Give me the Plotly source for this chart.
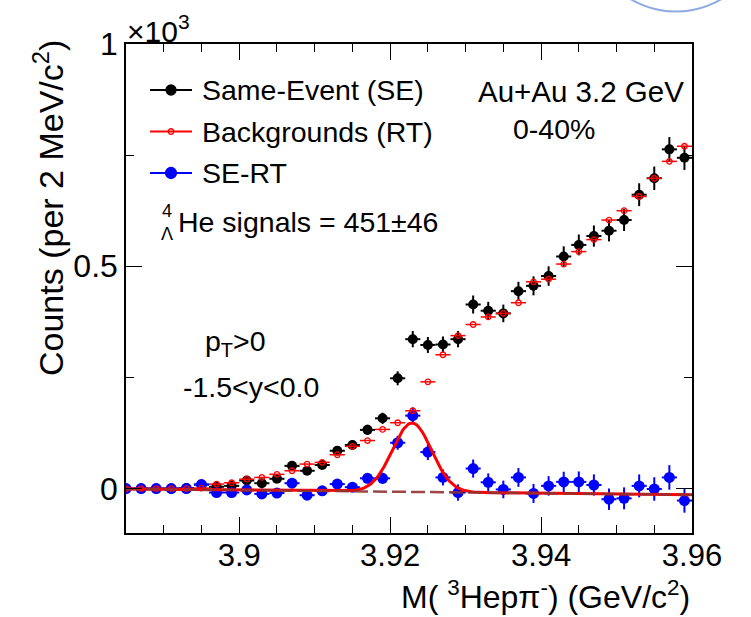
import plotly.graph_objects as go
import numpy as np

# ---------------- data ----------------
mass = [3.885, 3.887, 3.889, 3.891, 3.893, 3.895, 3.897, 3.899, 3.901, 3.903,
        3.905, 3.907, 3.909, 3.911, 3.913, 3.915, 3.917, 3.919, 3.921, 3.923,
        3.925, 3.927, 3.929, 3.931, 3.933, 3.935, 3.937, 3.939, 3.941, 3.943,
        3.945, 3.947, 3.949, 3.951, 3.953, 3.955, 3.957, 3.959]

same_event = [0, 0, 0, 0, 1, 9, 4, 6, 18, 12,
              22, 51, 40, 53, 85, 98, 132, 158, 248, 336,
              323, 324, 336, 414, 400, 394, 444, 456, 478, 522,
              548, 568, 580, 604, 661, 698, 763, 744]
same_event_err = [0, 0, 0, 0, 1, 3, 2, 2.5, 4, 3.5,
                  4.7, 7.1, 6.3, 7.3, 9.2, 9.9, 11.5, 12.6, 15.7, 18.3,
                  18, 18, 18.3, 20.3, 20, 19.8, 21.1, 21.4, 21.9, 22.8,
                  23.4, 23.8, 24.1, 24.6, 25.7, 26.4, 27.6, 27.3]

background = [0, 0, 0, 0, 0, 1, 10, 13, 21, 25,
              32, 40, 55, 59, 76, 95, 108, 133, 148, 175,
              240, 301, 344, 369, 386, 394, 418, 465, 471, 505,
              533, 560, 604, 625, 657, 698, 736, 770]

signal = [0, 0, 0, 0, 0, 9, -9, -9, -3, -12,
          -10, 12, -15, -5, 10, 3, 23, 23, 103, 164,
          82, 25, -9, 45, 14, -2, 25, -11, 6, 15,
          15, 8, -24, -22, 6, -1, 25, -27]
signal_err = [0, 0, 0, 0, 1, 3, 2, 2.5, 4, 3.5,
              4.7, 7.1, 6.3, 7.3, 9.2, 9.9, 11.5, 12.6, 15.7, 18.3,
              18, 18, 18.3, 20.3, 20, 19.8, 21.1, 21.4, 21.9, 22.8,
              23.4, 23.8, 24.1, 24.6, 25.7, 26.4, 27.6, 27.3]

half_bin = 0.001

# fit: gaussian + linear background (parameters)
fit_mean = 3.9229
fit_sigma = 0.0026
fit_amp = 155.0
bg_p0 = -1.0       # value at 3.885
bg_p1 = -173.0     # slope per GeV/c^2

x_ticks = [3.90, 3.92, 3.94, 3.96]
x_ticktext = ["3.9", "3.92", "3.94", "3.96"]
y_ticks = [0, 500, 1000]
y_ticktext = ["0", "0.5", "1"]

# ---------------- layout geometry ----------------
W, H = 751, 617
L, R, T, B = 126, 692, 44, 533
FONT = "Liberation Sans, Arial, Helvetica, sans-serif"


def px(x):
    return (x - L) / (R - L)


def py(y):
    return (B - y) / (B - T)


fig = go.Figure()

# Same-Event (black)
fig.add_trace(go.Scatter(
    x=mass, y=same_event, mode="markers",
    marker=dict(color="black", size=10, symbol="circle"),
    error_y=dict(type="data", array=same_event_err, color="black", thickness=2, width=0),
    error_x=dict(type="constant", value=half_bin, color="black", thickness=2, width=0),
    showlegend=False))

# SE-RT (blue)
fig.add_trace(go.Scatter(
    x=mass, y=signal, mode="markers",
    marker=dict(color="#0000ff", size=11, symbol="circle"),
    error_y=dict(type="data", array=signal_err, color="#0000ff", thickness=2, width=0),
    error_x=dict(type="constant", value=half_bin, color="#0000ff", thickness=2, width=0),
    showlegend=False))

# Backgrounds RT (red open)
fig.add_trace(go.Scatter(
    x=mass, y=background, mode="markers",
    marker=dict(color="#ff0000", size=5.5, symbol="circle-open", line=dict(width=1.3, color="#ff0000")),
    error_x=dict(type="constant", value=half_bin, color="#ff0000", thickness=1.5, width=0),
    showlegend=False))

# fit curves
m_fine = np.linspace(3.885, 3.96, 400)
bg_curve = bg_p0 + bg_p1 * (m_fine - 3.885)
tot_curve = bg_curve + fit_amp * np.exp(-0.5 * ((m_fine - fit_mean) / fit_sigma) ** 2)
fig.add_trace(go.Scatter(x=m_fine, y=tot_curve, mode="lines",
                         line=dict(color="#ff0000", width=3), showlegend=False))
fig.add_trace(go.Scatter(x=m_fine, y=bg_curve, mode="lines",
                         line=dict(color="rgba(145,50,50,0.9)", width=2.5, dash="14px,5px"),
                         showlegend=False))

# legend glyphs on a pixel overlay axis
leg_rows = [(90, "black", 10, "circle", "Same-Event (SE)"),
            (131.5, "#ff0000", 5.5, "circle-open", "Backgrounds (RT)"),
            (173, "#0000ff", 11, "circle", "SE-RT")]
for yy, col, sz, sym, label in leg_rows:
    fig.add_trace(go.Scatter(x=[150, 192], y=[yy, yy], mode="lines", xaxis="x2", yaxis="y2",
                             line=dict(color=col, width=2), showlegend=False, hoverinfo="skip"))
    fig.add_trace(go.Scatter(x=[171], y=[yy], mode="markers", xaxis="x2", yaxis="y2",
                             marker=dict(color=col, size=sz, symbol=sym,
                                         line=dict(width=1.3, color=col)),
                             showlegend=False, hoverinfo="skip"))

annotations = []


def txt(x, y, s, size, xanchor="left", yanchor="middle", angle=0):
    annotations.append(dict(x=px(x), y=py(y), xref="paper", yref="paper", text=s,
                            showarrow=False, xanchor=xanchor, yanchor=yanchor,
                            textangle=angle, borderpad=0,
                            font=dict(family=FONT, size=size, color="black")))


for yy, col, sz, sym, label in leg_rows:
    txt(201, yy, label, 28.5)

txt(581, 91, "Au+Au 3.2 GeV", 29.5, xanchor="center")
txt(554, 129, "0-40%", 28.5, xanchor="center")
txt(177, 222, "He signals = 451±46", 28.5)
txt(161, 222, "4", 18, yanchor="bottom")
txt(160, 223, "Λ", 18, yanchor="top")
txt(204, 343, "p<sub>T</sub>>0", 28.5)
txt(182, 387, "-1.5<y<0.0", 28.5)
txt(126, 29, "×10<sup>3</sup>", 30)
txt(48, 208, "Counts (per 2 MeV/c<sup>2</sup>)", 34, xanchor="center", angle=-90)
txt(691, 616, "M( <sup>3</sup>Hepπ<sup>-</sup>) (GeV/c<sup>2</sup>)", 32, xanchor="right", yanchor="bottom")

# decorative partial circle at the top right of the reference
cx, cy, rr = 676, -77, 88.6
shapes = [dict(type="circle", xref="paper", yref="paper",
               x0=px(cx - rr), x1=px(cx + rr), y0=py(cy + rr), y1=py(cy - rr),
               line=dict(color="rgb(140,170,225)", width=2), layer="above")]

fig.update_layout(
    width=W, height=H,
    margin=dict(l=L, r=W - R, t=T, b=H - B, pad=0),
    paper_bgcolor="white", plot_bgcolor="white",
    font=dict(family=FONT, color="black"),
    showlegend=False,
    annotations=annotations,
    shapes=shapes,
    xaxis=dict(range=[3.885, 3.96], tickvals=x_ticks, ticktext=x_ticktext,
               ticks="inside", ticklen=16, tickwidth=1.2, tickcolor="black",
               showline=True, linecolor="black", linewidth=1.5, mirror="allticks",
               showgrid=False, zeroline=False, ticklabelstandoff=-6,
               tickfont=dict(family=FONT, size=31, color="black"),
               minor=dict(ticks="inside", dtick=0.005, tick0=3.9, ticklen=8,
                          tickwidth=1.2, tickcolor="black", showgrid=False)),
    yaxis=dict(range=[-100, 1000], tickvals=y_ticks, ticktext=y_ticktext,
               ticks="inside", ticklen=16, tickwidth=1.2, tickcolor="black",
               showline=True, linecolor="black", linewidth=1.5, mirror="allticks",
               showgrid=False, zeroline=False,
               tickfont=dict(family=FONT, size=32, color="black"),
               minor=dict(ticks="inside", dtick=250, tick0=0, ticklen=8,
                          tickwidth=1.2, tickcolor="black", showgrid=False)),
    xaxis2=dict(range=[L, R], overlaying="x", visible=False, fixedrange=True),
    yaxis2=dict(range=[B, T], overlaying="y", visible=False, fixedrange=True),
)

fig.write_html("out.html")
